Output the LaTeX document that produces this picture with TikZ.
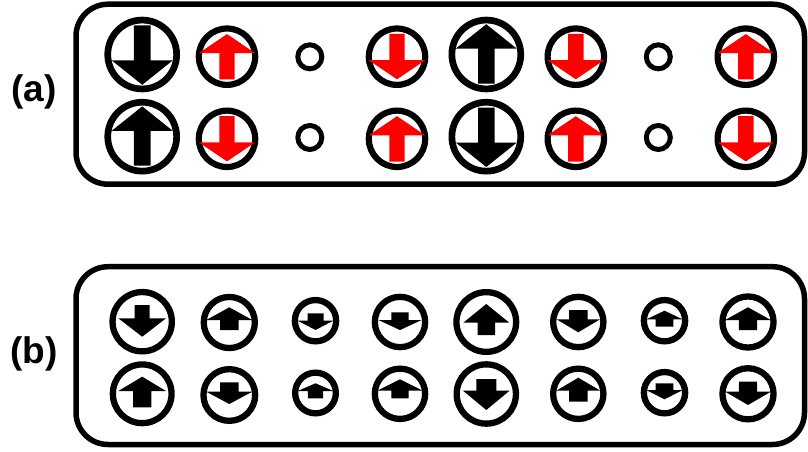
\documentclass[tikz,border=0pt]{standalone}
\usepackage{fontspec}
\setmainfont{Liberation Sans}
\definecolor{SpinRed}{RGB}{255,0,0}

\begin{document}
\begin{tikzpicture}[
    x=1pt, y=-1pt,
    panel/.style={draw, line width=5.5pt, rounded corners=32pt,
                  minimum width=728.5pt, minimum height=180pt, inner sep=0pt},
    lbl/.style={font=\fontsize{37}{40}\selectfont\bfseries, inner sep=0pt},
    ring/.style={circle, draw, inner sep=0pt, line width=#1},
    ring/.default=6.3pt,
    hole/.style={ring=5pt, minimum size=24pt}
  ]
  \useasboundingbox (0,0) rectangle (808,452);

  % Panels and labels
  \node[panel] (pa) at (440.25,94.2) {};
  \node[panel, minimum height=177.8pt] (pb) at (440.25,355.6) {};
  \node[lbl] (la) at (34,91.5) {(a)};
  \node[lbl] (lb) at (34,353.5) {(b)};

  % (a): large black spins
  \foreach \x/\y/\d [count=\i] in {142.2/54.5/1, 486.3/54.5/-1, 142.2/136.7/-1, 486.3/136.7/1}{
    \node[ring=6.7pt, minimum size=68.9pt] (big\i) at (\x,\y) {};
    \fill[shift={(\x,\y)}, yscale=\d] (-8.3,-29) -- (8.3,-29) -- (8.3,5.9) -- (30.5,5.9)
      -- (0,30.3) -- (-30.5,5.9) -- (-8.3,5.9) -- cycle;
  }

  % (a): red spins
  \foreach \x/\y/\d [count=\i] in {227/56.7/-1, 397/56.7/1, 575.8/56.7/1, 745.8/56.7/-1,
                                  227/138.8/1, 397/138.8/-1, 575.8/138.8/-1, 745.8/138.8/1}{
    \node[ring=6.2pt, minimum size=56.4pt] (red\i) at (\x,\y) {};
    \fill[SpinRed, shift={(\x,\y)}, yscale=\d] (-7.7,-22.7) -- (7.7,-22.7) -- (7.7,3.5) -- (28.2,3.5)
      -- (0,22.6) -- (-28.2,3.5) -- (-7.7,3.5) -- cycle;
  }

  % (a): empty sites
  \foreach \x/\y [count=\i] in {309.8/56.8, 658.3/56.8, 309.8/137.5, 658.3/137.5}
    \node[hole] (hole\i) at (\x,\y) {};

  % (b): all spins, size and arrow per site
  \foreach \x/\y/\r/\d/\t/\b/\a/\s/\h [count=\i] in {
      142.2/321.7/32.8/1/-16.7/-3.4/15/7.5/23.8,
      229.3/322.5/28.7/-1/-7.5/2.5/15.2/9.3/23,
      315.5/320.7/23.8/1/-7.4/0/9.3/8/17.8,
      400/322/28.3/1/-9.7/-2/8/8.7/21.7,
      486.3/322/33/-1/-13/-0.7/18/8.8/23,
      578.3/322/28.3/1/-12/-2.7/10.3/9.2/21.7,
      664.5/320.7/23.8/-1/-6/1.4/10/8.8/18,
      748/322/28.7/-1/-8/2/14.7/9.2/22.8,
      142.2/393.8/32.5/-1/-13.5/2.8/17.1/9.2/23.8,
      229.3/395/29/1/-12.7/-3.3/9/9.2/23,
      315.5/393/23.5/-1/-5.3/2/9.7/7.7/17.8,
      400/393.8/28.3/-1/-4.5/3.1/14.5/8.7/22.7,
      486.3/394/32.8/1/-15/-3.3/16/10/23.3,
      578.3/393.8/28.3/-1/-7.9/3.1/16.1/9.2/22,
      664.5/392.7/23.8/1/-9.4/-2.7/6.6/8.8/18.3,
      748/393.8/28.7/1/-12.1/-2.1/11.2/9.2/22.8}{
    \node[ring, minimum size={2*\r-6.3}] (sb\i) at (\x,\y) {};
    \fill[shift={(\x,\y)}, yscale=\d] (-\s,\t) -- (\s,\t) -- (\s,\b) -- (\h,\b)
      -- (0,\a) -- (-\h,\b) -- (-\s,\b) -- cycle;
  }

\end{tikzpicture}
\end{document}
